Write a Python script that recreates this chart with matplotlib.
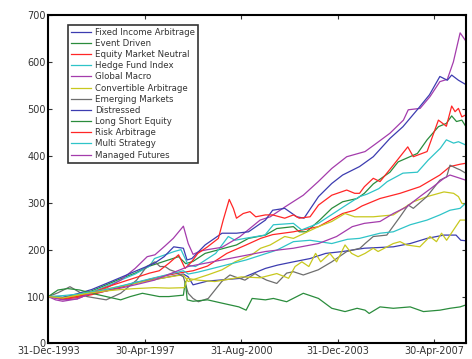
import matplotlib
matplotlib.use("Agg")
import matplotlib.pyplot as plt

# months since 31-Dec-1993, index values
fia_m = [0, 6, 12, 24, 36, 48, 56, 58, 60, 66, 80, 90, 95, 101.6, 108.5, 115, 122, 131, 143, 150, 157, 164, 169, 171, 173]
fia_v = [100, 98, 100, 112, 130, 140, 148, 142, 125, 133, 139, 160, 167, 174, 181, 192, 196, 203, 206, 213, 224, 231, 231, 220, 219]

ed_m = [0, 6, 12, 18, 24, 30, 36, 42, 48, 54, 57, 60, 65, 78, 83, 90, 94.7, 101.6, 104, 107, 112.5, 117.5, 122, 128, 131, 134.7, 141.6, 145, 153, 157, 161.7, 165, 167.2, 169.2, 171.4, 173]
ed_v = [100, 98, 103, 112, 125, 138, 150, 165, 175, 185, 170, 175, 192, 210, 224, 231, 245, 249, 238, 238, 263, 288, 302, 309, 320, 340, 365, 387, 405, 434, 462, 469, 485, 473, 476, 463]

emn_m = [0, 6, 12, 18, 24, 30, 36, 42, 48, 54, 60, 66, 74, 82, 88, 93, 101.6, 112, 122, 127, 130, 137.5, 145.8, 154, 162.3, 166.5, 170.7, 173]
emn_v = [100, 94, 98, 104, 112, 120, 128, 137, 144, 150, 155, 165, 192, 210, 224, 232, 238, 249, 277, 284, 293, 309, 320, 334, 359, 377, 382, 384]

hfi_m = [0, 6, 12, 18, 24, 30, 36, 42, 44, 52.2, 55, 58, 61, 69.4, 74.6, 77.4, 81.5, 89.8, 93.3, 101.6, 105, 111.9, 122.3, 129, 132, 137, 140.5, 147, 153, 157.5, 162.5, 165, 168, 170, 173]
hfi_v = [100, 97, 100, 110, 122, 135, 148, 165, 181, 196, 200, 167, 164, 192, 228, 220, 224, 231, 253, 256, 242, 256, 291, 313, 318, 330, 345, 363, 365, 391, 416, 434, 427, 430, 423]

gm_m = [0, 3, 6, 12, 18, 24, 30, 36, 41, 44.2, 48.4, 51.8, 56, 58, 60, 63, 66, 72, 79.5, 87.8, 92, 98.1, 105.7, 111.9, 117.5, 123.7, 131.3, 136.1, 141.6, 147.2, 149.2, 154.1, 158.2, 162.3, 165.4, 167.9, 170.7, 173]
gm_v = [100, 93, 90, 95, 108, 118, 135, 160, 185, 189, 208, 224, 250, 213, 190, 197, 200, 205, 228, 263, 270, 291, 316, 345, 373, 398, 409, 427, 448, 476, 498, 501, 526, 558, 563, 600, 662, 645]

ca_m = [0, 6, 12, 18, 24, 30, 36, 42, 48, 54, 56, 58, 60, 66, 72, 75.3, 77.4, 84.3, 88, 92, 98, 101.6, 112, 117.5, 123, 127, 131, 134.7, 143, 151.3, 157, 164, 168, 170, 171.4, 173]
ca_v = [100, 96, 102, 110, 116, 122, 128, 134, 140, 145, 146, 132, 136, 146, 157, 167, 174, 189, 203, 210, 228, 224, 249, 260, 277, 270, 270, 270, 274, 302, 313, 323, 320, 313, 299, 295]

em_m = [0, 4, 9, 16, 24, 30, 36.6, 40.8, 44.2, 46.3, 48.4, 50.4, 52.6, 56, 58, 60, 62.2, 66.3, 69.1, 71.9, 75.3, 77.4, 81.5, 85.7, 87.8, 90.5, 94.7, 98.8, 101.6, 105.7, 111.9, 117.5, 123.7, 129.2, 131.3, 134.7, 140.3, 145.8, 149.2, 151.3, 156.9, 162.3, 165.1, 166.5, 169.3, 170.7, 173]
em_v = [100, 108, 121, 100, 93, 107, 135, 164, 174, 164, 164, 157, 153, 142, 107, 96, 89, 96, 114, 132, 146, 142, 135, 149, 142, 135, 128, 150, 153, 146, 157, 174, 196, 203, 213, 228, 231, 270, 295, 288, 313, 348, 355, 380, 373, 370, 363]

dis_m = [0, 6, 12, 18, 26, 32, 37, 44, 48, 52, 56, 57.5, 59.5, 65, 72, 78, 83, 90, 93, 98, 103, 106, 112, 117.5, 122, 129, 134.7, 141.6, 147, 153.4, 158, 162.3, 165.4, 167.2, 170, 173]
dis_v = [100, 98, 106, 115, 132, 145, 156, 171, 185, 206, 203, 178, 181, 210, 235, 235, 238, 263, 284, 288, 270, 267, 313, 341, 359, 377, 398, 437, 462, 501, 530, 569, 561, 572, 561, 552]

lse_m = [0, 4, 8, 13, 18, 24, 30, 34, 39, 46, 50, 56, 56.8, 57.6, 60, 66, 72, 79, 82, 84.5, 90, 93.3, 98.8, 105.7, 112, 117.5, 123, 128, 131.3, 133, 137.5, 143, 150, 155.5, 162.3, 166.5, 170.7, 173]
lse_v = [100, 114, 117, 114, 107, 100, 93, 100, 107, 100, 100, 103, 132, 93, 90, 93, 86, 78, 71, 96, 93, 96, 89, 107, 96, 75, 68, 75, 71, 64, 78, 75, 78, 68, 71, 75, 78, 82]

ra_m = [0, 6, 12, 18, 24, 30, 36, 42, 46, 50, 54, 56.7, 59.4, 62, 66, 70.5, 72.5, 75, 76.7, 78, 80.8, 83.6, 86, 90, 93, 98, 101.6, 104, 108.5, 112, 117.5, 123.7, 127, 129, 131, 134.7, 137.5, 143, 149, 151.3, 157, 161.7, 165, 167.2, 168.6, 170, 171.4, 173]
ra_v = [100, 95, 100, 108, 120, 130, 140, 150, 155, 171, 189, 160, 174, 192, 206, 224, 263, 307, 288, 267, 277, 281, 270, 274, 274, 267, 274, 267, 270, 295, 316, 327, 320, 320, 334, 352, 345, 380, 419, 398, 409, 476, 463, 506, 494, 501, 483, 487]

ms_m = [0, 6, 12, 24, 36, 48, 56, 58, 62, 72, 82, 94.7, 101.6, 108.5, 117.5, 124, 129, 137.5, 143, 150, 157, 162.3, 166.5, 170.7, 173]
ms_v = [100, 102, 105, 115, 130, 145, 155, 148, 152, 165, 178, 199, 217, 220, 213, 222, 224, 235, 238, 253, 263, 274, 284, 288, 299]

mf_m = [0, 6, 12, 18, 24, 30, 36, 44, 58, 72, 90, 101.6, 112, 119.5, 126, 131, 137.5, 143, 148.5, 154, 159.5, 164, 166.5, 170.7, 173]
mf_v = [100, 93, 95, 108, 112, 118, 125, 135, 164, 178, 196, 203, 213, 228, 249, 256, 260, 277, 291, 313, 334, 352, 359, 352, 348]

# thirteenth series (not in the legend)
x13_m = [0, 6, 12, 18, 24, 30, 36, 44, 50, 56.5, 57.5, 62, 69, 75, 80, 87.8, 94.7, 99.6, 102.3, 105.1, 108, 110.8, 112.9, 116.7, 119.5, 123, 125.7, 128.4, 131.3, 134.7, 136.7, 143, 145.8, 148.5, 154, 158.2, 160.9, 163, 165.1, 170.7, 173]
x13_v = [100, 97, 103, 108, 112, 115, 117, 119, 118, 119, 139, 135, 132, 137, 142, 140, 149, 139, 164, 174, 164, 192, 174, 192, 174, 210, 192, 185, 192, 203, 196, 213, 217, 210, 206, 228, 217, 235, 220, 263, 263]

labels = ['Fixed Income Arbitrage', 'Event Driven', 'Equity Market Neutral',
          'Hedge Fund Index', 'Global Macro', 'Convertible Arbitrage',
          'Emerging Markets', 'Distressed', 'Long Short Equity',
          'Risk Arbitrage', 'Multi Strategy', 'Managed Futures']

tick_months = [0, 40, 80, 120, 160]
tick_labels = ['31-Dec-1993', '30-Apr-1997', '31-Aug-2000', '31-Dec-2003', '30-Apr-2007']

# matlab style color cycle
cols = ['#3c3cb0', '#2a8c3c', '#ff2626', '#2ec4c8', '#a43cac', '#c8c81e', '#6e6e6e']

series = [(fia_m, fia_v), (ed_m, ed_v), (emn_m, emn_v), (hfi_m, hfi_v),
          (gm_m, gm_v), (ca_m, ca_v), (em_m, em_v), (dis_m, dis_v),
          (lse_m, lse_v), (ra_m, ra_v), (ms_m, ms_v), (mf_m, mf_v),
          (x13_m, x13_v)]

fig = plt.figure(figsize=(4.72, 3.59), dpi=100)
ax = fig.add_axes([0.1023, 0.0432, 0.8843, 0.915])

for i, (m, v) in enumerate(series):
    lab = labels[i] if i < len(labels) else None
    ax.plot(m, v, color=cols[i % 7], lw=0.9, label=lab)

ax.set_xlim(0, 173)
ax.set_ylim(0, 700)
ax.set_xticks(tick_months)
ax.set_xticklabels(tick_labels)
ax.set_yticks(range(0, 701, 100))
ax.tick_params(direction='in', length=3, width=0.8, labelsize=7, colors='#333333',
               top=True, right=True, pad=2)
for s in ax.spines.values():
    s.set_linewidth(1.5)

leg = ax.legend(loc='upper left', bbox_to_anchor=(0.047, 0.97), fontsize=6.2,
                frameon=True, fancybox=False, edgecolor='black', borderpad=0.35,
                labelspacing=0.25, handlelength=2.3, handletextpad=0.5,
                borderaxespad=0)
leg.get_frame().set_linewidth(1.2)
for t in leg.get_texts():
    t.set_color('#333333')

fig.savefig('out.png', dpi=100)
